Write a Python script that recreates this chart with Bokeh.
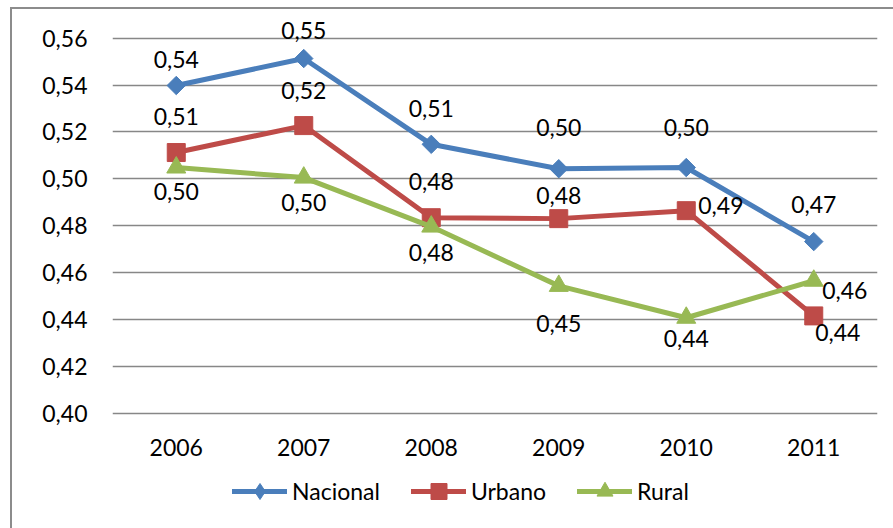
from bokeh.plotting import figure
from bokeh.layouts import column
from bokeh.models import (FactorRange, Range1d, FixedTicker, CustomJSTickFormatter,
                          Legend, LegendItem, ColumnDataSource)
from bokeh.core.properties import value
from bokeh.embed import file_html
from bokeh.resources import INLINE

# ---------------- data ----------------
years = ["2006", "2007", "2008", "2009", "2010", "2011"]
nacional = [0.5398, 0.5513, 0.5147, 0.5043, 0.5048, 0.4732]
urbano = [0.5112, 0.5227, 0.4834, 0.4830, 0.4864, 0.4415]
rural = [0.5048, 0.5005, 0.4796, 0.4543, 0.4407, 0.4565]
y_ticks = [0.40, 0.42, 0.44, 0.46, 0.48, 0.50, 0.52, 0.54, 0.56]
series_names = ["Nacional", "Urbano", "Rural"]

# ---------------- style ----------------
FONT = "Lato"
FS = "23px"
BLUE, RED, GREEN = "#4A7EBB", "#BE4B48", "#98B954"
GRID = "#878787"
LW = 5

# data-label placement (screen px offsets) per point
nac_dx, nac_dy, nac_al = [0, 0, 0, 0, 0, 0], [-26, -28, -36, -41, -40, -37], ["center"] * 6
urb_dx, urb_dy, urb_al = [0, 0, 0, 0, 12, 24], [-36, -35, -36, -23, -5, 17], ["center"] * 4 + ["left", "center"]
rur_dx, rur_dy, rur_al = [0, 0, 0, 0, 0, 31], [24, 25, 26, 38, 21, 10], ["center"] * 6

p = figure(width=881, height=456, x_range=FactorRange(factors=years, range_padding=0),
           y_range=Range1d(0.399, 0.5718), output_backend="svg", toolbar_location=None,
           min_border_left=100, min_border_right=16, min_border_top=1, min_border_bottom=50)
p.outline_line_color = None
p.background_fill_color = "white"
p.border_fill_color = "white"

p.xgrid.grid_line_color = None
p.ygrid.grid_line_color = GRID
p.ygrid.grid_line_width = 1.3
p.yaxis.ticker = FixedTicker(ticks=y_ticks)
p.ygrid.ticker = FixedTicker(ticks=y_ticks)
p.yaxis.formatter = CustomJSTickFormatter(code="return tick.toFixed(2).replace('.', ',');")

for ax in (p.xaxis, p.yaxis):
    ax.axis_line_color = None
    ax.major_tick_line_color = None
    ax.minor_tick_line_color = None
    ax.major_tick_out = 0
    ax.major_tick_in = 0
    ax.major_label_text_font = FONT
    ax.major_label_text_font_size = FS
    ax.major_label_text_color = "black"
p.yaxis.major_label_standoff = 25
p.xaxis.major_label_standoff = 23

# legend lives in its own small figure under the chart
pl = figure(width=881, height=63, x_range=Range1d(0, 1), y_range=Range1d(0, 1),
            output_backend="svg", toolbar_location=None, x_axis_location=None, y_axis_location=None,
            min_border_left=0, min_border_right=0, min_border_top=0, min_border_bottom=0)
pl.outline_line_color = None
pl.xgrid.visible = False
pl.ygrid.visible = False

nan = float("nan")
items = []
series = [(nacional, BLUE, "square", 13, 45, "diamond", nac_dx, nac_dy, nac_al),
          (urbano, RED, "square", 18, 0, "square", urb_dx, urb_dy, urb_al),
          (rural, GREEN, "triangle", 19, 0, "triangle", rur_dx, rur_dy, rur_al)]
for name, (vals, col, marker, size, ang, leg_marker, dx, dy, al) in zip(series_names, series):
    src = ColumnDataSource(dict(x=years, y=vals,
                                lab=[f"{v:.2f}".replace(".", ",") for v in vals],
                                dx=dx, dy=dy, al=al))
    p.line("x", "y", source=src, line_color=col, line_width=LW, line_join="round", line_cap="round")
    p.scatter("x", "y", source=src, marker=marker, size=size, angle=ang, angle_units="deg",
              fill_color=col, line_color=col, line_width=1)
    p.text("x", "y", text="lab", source=src, x_offset="dx", y_offset="dy", text_align="al",
           text_baseline="middle", text_font=value(FONT), text_font_size=value(FS), text_color="black")
    # legend proxies (same styling, no visible data)
    lr = pl.line(x=[nan], y=[nan], line_color=col, line_width=LW, line_cap="round")
    sr = pl.scatter(x=[nan], y=[nan], marker=leg_marker, size=size,
                    fill_color=col, line_color=col, line_width=1)
    items.append(LegendItem(label=name, renderers=[lr, sr]))

legend = Legend(items=items, orientation="horizontal", location=(120, 17),
                glyph_width=55, glyph_height=40, label_height=40, label_standoff=5, spacing=31,
                padding=0, margin=0, border_line_color=None, background_fill_alpha=0,
                label_text_font=FONT, label_text_font_size=FS, label_text_color="black")
pl.add_layout(legend, "center")

layout = column(p, pl, spacing=0, margin=(7, 0, 0, 10),
                styles={"border-left": "2px solid #8c8c8c", "border-top": "2px solid #8c8c8c"})

open("out.html", "w").write(file_html(layout, INLINE))
